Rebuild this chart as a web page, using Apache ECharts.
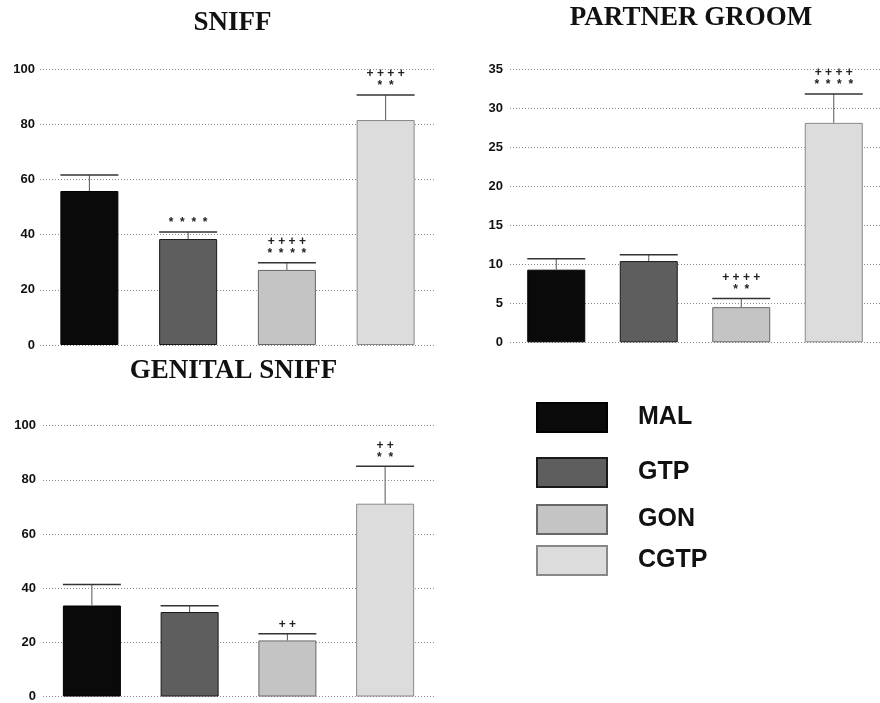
<!DOCTYPE html>
<html>
<head>
<meta charset="utf-8">
<script src="https://cdn.jsdelivr.net/npm/echarts@6/dist/echarts.min.js"></script>
<style>
html,body{margin:0;padding:0;background:#fff;}
#c{width:880px;height:703px;}
</style>
</head>
<body>
<div id="c"></div>
<script>
// ---- data ----
var groups = ['MAL', 'GTP', 'GON', 'CGTP'];
var panelTitles = ['SNIFF', 'PARTNER GROOM', 'GENITAL SNIFF'];

var sniffMean = [55.8, 38.4, 27.2, 81.5];
var sniffSem = [5.8, 2.5, 2.6, 9.1];
var sniffSig = ['', '*  *  *  *', '+ + + +\n*  *  *  *', '+ + + +\n*  *'];

var groomMean = [9.3, 10.4, 4.5, 28.1];
var groomSem = [1.4, 0.8, 1.1, 3.7];
var groomSig = ['', '', '+ + + +\n*  *', '+ + + +\n*  *  *  *'];

var genitalMean = [33.6, 31.2, 20.7, 71.2];
var genitalSem = [7.8, 2.3, 2.5, 13.8];
var genitalSig = ['', '', '+ +', '+ +\n*  *'];

var sniffTicks = [0, 100, 20];
var groomTicks = [0, 35, 5];
var genitalTicks = [0, 100, 20];

// ---- styles ----
var groupColors = ['#0a0a0a', '#5e5e5e', '#c4c4c4', '#dcdcdc'];
var groupBorders = ['#000', '#1a1a1a', '#666', '#888'];

var panels = [
  {mean: sniffMean, sem: sniffSem, sig: sniffSig, ticks: sniffTicks},
  {mean: groomMean, sem: groomSem, sig: groomSig, ticks: groomTicks},
  {mean: genitalMean, sem: genitalSem, sig: genitalSig, ticks: genitalTicks}
];

var grids = [
  {left: 40, top: 69, width: 395, height: 276},
  {left: 510, top: 69, width: 377, height: 273.3},
  {left: 43, top: 425.7, width: 391, height: 273.6}
];
var labelMargins = [5, 7, 7];
var titlePos = [[232.5, 10], [691, 5], [233.5, 358]];
var legendTops = [402, 457, 504, 545];

var option = {
  animation: false,
  backgroundColor: '#fff',
  title: panelTitles.map(function (t, i) {
    return {
      text: t, left: titlePos[i][0], top: titlePos[i][1], textAlign: 'center', padding: 0,
      textStyle: {fontFamily: 'Liberation Serif', fontWeight: 'bold', fontSize: 27, color: '#111'}
    };
  }),
  legend: groups.map(function (g, i) {
    return {
      data: [g], left: 536, top: legendTops[i], orient: 'vertical', padding: 0,
      itemWidth: 70, itemHeight: 29, icon: 'rect', selectedMode: false,
      textStyle: {fontFamily: 'Liberation Sans', fontWeight: 'bold', fontSize: 25, color: '#111', padding: [0, 0, 0, 26]}
    };
  }),
  grid: grids,
  xAxis: grids.map(function (g, i) {
    return {
      type: 'category', gridIndex: i, data: groups,
      axisLine: {show: false}, axisTick: {show: false}, axisLabel: {show: false}, splitLine: {show: false}
    };
  }),
  yAxis: panels.map(function (p, i) {
    return {
      type: 'value', gridIndex: i, min: p.ticks[0], max: p.ticks[1], interval: p.ticks[2],
      axisLine: {show: false}, axisTick: {show: false},
      axisLabel: {fontFamily: 'Liberation Sans', fontWeight: 'bold', fontSize: 13, color: '#111', margin: labelMargins[i]},
      splitLine: {show: true, lineStyle: {color: '#8a8a8a', width: 1, type: [1, 2]}}
    };
  }),
  series: []
};

panels.forEach(function (p, pi) {
  groups.forEach(function (g, gi) {
    option.series.push({
      name: g, type: 'bar', xAxisIndex: pi, yAxisIndex: pi,
      barWidth: 58, barGap: '-100%',
      itemStyle: {color: groupColors[gi], borderColor: groupBorders[gi], borderWidth: 1},
      data: p.mean.map(function (v, k) { return k === gi ? v : '-'; }),
      z: 2
    });
  });
  option.series.push({
    type: 'custom', xAxisIndex: pi, yAxisIndex: pi, z: 3,
    data: p.mean.map(function (v, k) { return [k, v, v + p.sem[k]]; }),
    renderItem: function (params, api) {
      var base = api.coord([api.value(0), api.value(1)]);
      var top = api.coord([api.value(0), api.value(2)]);
      var x = base[0];
      var sig = p.sig[params.dataIndex];
      var children = [
        {type: 'line', shape: {x1: x, y1: base[1], x2: x, y2: top[1]}, style: {stroke: '#555', lineWidth: 1}},
        {type: 'line', shape: {x1: x - 29, y1: top[1], x2: x + 29, y2: top[1]}, style: {stroke: '#333', lineWidth: 1.5}}
      ];
      if (sig) {
        children.push({
          type: 'text', x: x, y: top[1] - 3,
          style: {text: sig, align: 'center', verticalAlign: 'bottom', fontFamily: 'Liberation Sans', fontWeight: 'bold', fontSize: 12, lineHeight: 12, fill: '#222'}
        });
      }
      return {type: 'group', children: children};
    }
  });
});

var chart = echarts.init(document.getElementById('c'), null, {renderer: 'canvas'});
chart.setOption(option);
</script>
</body>
</html>
